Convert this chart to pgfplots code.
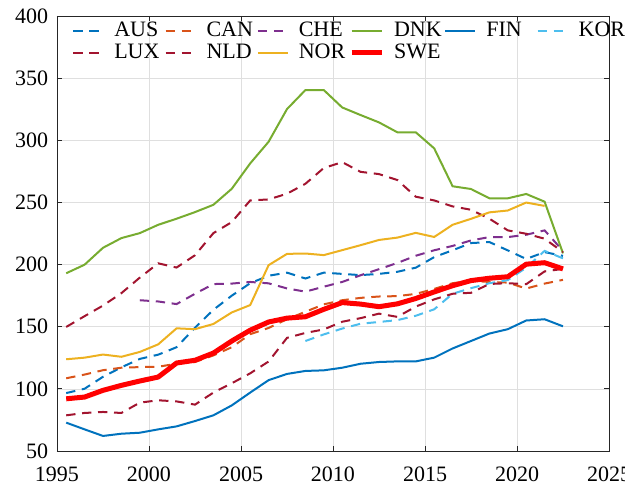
\documentclass[border=0pt]{standalone}
\usepackage{fontspec}
\setmainfont{Liberation Serif}
\usepackage{pgfplots}
\pgfplotsset{compat=1.18}
\definecolor{cBlue}{HTML}{0072BD}
\definecolor{cOrange}{HTML}{D95319}
\definecolor{cPurple}{HTML}{7E2F8E}
\definecolor{cGreen}{HTML}{77AC30}
\definecolor{cLight}{HTML}{4DBEEE}
\definecolor{cDark}{HTML}{A2142F}
\definecolor{cYellow}{HTML}{EDB120}
\definecolor{cSwe}{HTML}{FF0000}
\definecolor{cAxis}{HTML}{262626}
\definecolor{cGrid}{HTML}{DFDFDF}
\begin{document}
\fontsize{16.5}{19}\selectfont
\begin{tikzpicture}
\begin{axis}[
  name=ax,
  scale only axis,
  width=414pt, height=326.25pt,
  xmin=1995, xmax=2025, ymin=50, ymax=400,
  xtick={1995,2000,...,2025},
  ytick={50,100,...,400},
  grid=major,
  grid style={color=cGrid, line width=0.5pt},
  axis line style={color=cAxis, line width=0.6pt},
  tick align=inside, tick pos=both,
  major tick length=4pt,
  tick style={color=cAxis, line width=0.6pt},
  /pgf/number format/assume math mode=true,
  /pgf/number format/1000 sep={},
  ticklabel style={font=\fontsize{16.5}{19}\selectfont, text=black},
  xticklabel style={yshift=-6pt},
  yticklabel style={xshift=-1pt},
  mydash/.style={dash pattern=on 7pt off 5pt},
  legend columns=6,
  legend style={draw=none, fill=none, at={(0.0272,0.9925)}, anchor=north west,
    inner sep=0pt, row sep=0pt,
    font=\fontsize{16.5}{19}\selectfont,
    nodes={inner sep=1.5pt, text height=11.5pt, text depth=2pt},
    /tikz/every odd column/.append style={column sep=6pt},
    /tikz/every even column/.append style={column sep=0pt}},
  legend cell align=left,
  legend image code/.code={\draw[#1] (0pt,0pt) -- (22.5pt,0pt);},
]
\addplot[cBlue, mydash, line width=1.5pt] coordinates {
(1995.5,96.6) (1996.5,100.1) (1997.5,109.7) (1998.5,117.3) (1999.5,124.1) (2000.5,127.5) (2001.5,133.5) (2002.5,149.2) (2003.5,163.6) (2004.5,175) (2005.5,185) (2006.5,191) (2007.5,193.5) (2008.5,188.8) (2009.5,193.5) (2010.5,192.5) (2011.5,191.5) (2012.5,192.5) (2013.5,194.2) (2014.5,197.5) (2015.5,206) (2016.5,211.5) (2017.5,217.3) (2018.5,218.1) (2019.5,211.4) (2020.5,204.5) (2021.5,210) (2022.5,207)};
\addlegendentry{\makebox[36.2pt][l]{AUS}}
\addplot[cOrange, mydash, line width=1.5pt] coordinates {
(1995.5,108.5) (1996.5,111.5) (1997.5,115) (1998.5,117) (1999.5,117.5) (2000.5,117.8) (2001.5,120.2) (2002.5,121.6) (2003.5,126.9) (2004.5,133.5) (2005.5,144) (2006.5,149) (2007.5,156) (2008.5,162) (2009.5,168) (2010.5,171.3) (2011.5,173.2) (2012.5,174.3) (2013.5,174.6) (2014.5,176.4) (2015.5,180.4) (2016.5,185) (2017.5,187) (2018.5,186) (2019.5,185.5) (2020.5,180.7) (2021.5,184.7) (2022.5,187.7)};
\addlegendentry{\makebox[36.2pt][l]{CAN}}
\addplot[cPurple, mydash, line width=1.5pt] coordinates {
(1999.5,171.3) (2000.5,170.3) (2001.5,168.2) (2002.5,176.5) (2003.5,184.3) (2004.5,184.7) (2005.5,186) (2006.5,184.9) (2007.5,180.8) (2008.5,178.2) (2009.5,182.2) (2010.5,186) (2011.5,191.4) (2012.5,196.3) (2013.5,201.3) (2014.5,207.1) (2015.5,211.5) (2016.5,215) (2017.5,219.4) (2018.5,222.1) (2019.5,222.1) (2020.5,224) (2021.5,227.5) (2022.5,211)};
\addlegendentry{\makebox[36.2pt][l]{CHE}}
\addplot[cGreen, line width=1.5pt] coordinates {
(1995.5,193) (1996.5,199.9) (1997.5,213.5) (1998.5,221.3) (1999.5,225.3) (2000.5,232) (2001.5,236.9) (2002.5,242.2) (2003.5,248.1) (2004.5,261) (2005.5,281.4) (2006.5,298.8) (2007.5,325.1) (2008.5,340.4) (2009.5,340.4) (2010.5,326.4) (2011.5,320.3) (2012.5,314.4) (2013.5,306.4) (2014.5,306.4) (2015.5,293.5) (2016.5,263) (2017.5,260.8) (2018.5,253.3) (2019.5,253.3) (2020.5,256.8) (2021.5,250.6) (2022.5,209)};
\addlegendentry{\makebox[36.2pt][l]{DNK}}
\addplot[cBlue, line width=1.5pt] coordinates {
(1995.5,72.8) (1996.5,67.4) (1997.5,62.1) (1998.5,63.9) (1999.5,64.7) (2000.5,67.4) (2001.5,69.8) (2002.5,74.1) (2003.5,78.7) (2004.5,86.7) (2005.5,97) (2006.5,107) (2007.5,112) (2008.5,114.4) (2009.5,114.9) (2010.5,117) (2011.5,120.2) (2012.5,121.6) (2013.5,122.1) (2014.5,122.1) (2015.5,125.1) (2016.5,132.5) (2017.5,138.5) (2018.5,144.5) (2019.5,148) (2020.5,155) (2021.5,156) (2022.5,150.3)};
\addlegendentry{\makebox[36.2pt][l]{FIN}}
\addplot[cLight, mydash, line width=1.5pt] coordinates {
(2008.5,138.5) (2009.5,143.8) (2010.5,148.5) (2011.5,152.4) (2012.5,153.8) (2013.5,155.3) (2014.5,158.8) (2015.5,164) (2016.5,176.5) (2017.5,181) (2018.5,185) (2019.5,187.5) (2020.5,197.5) (2021.5,211) (2022.5,205)};
\addlegendentry{KOR}
\addplot[cDark, mydash, line width=1.5pt] coordinates {
(1995.5,78.7) (1996.5,80.6) (1997.5,81.4) (1998.5,80.6) (1999.5,88.9) (2000.5,90.8) (2001.5,89.9) (2002.5,87.3) (2003.5,97) (2004.5,104.5) (2005.5,112.5) (2006.5,122) (2007.5,141) (2008.5,145) (2009.5,147.8) (2010.5,154) (2011.5,156.9) (2012.5,160.5) (2013.5,157.9) (2014.5,166.2) (2015.5,172) (2016.5,176.5) (2017.5,177.3) (2018.5,184.4) (2019.5,185) (2020.5,184.2) (2021.5,194.5) (2022.5,196.5)};
\addlegendentry{\makebox[36.2pt][l]{LUX}}
\addplot[cDark, mydash, line width=1.5pt] coordinates {
(1995.5,149.8) (1996.5,158.5) (1997.5,167) (1998.5,177) (1999.5,189.5) (2000.5,201) (2001.5,197.6) (2002.5,207.5) (2003.5,225.3) (2004.5,234.2) (2005.5,251.6) (2006.5,252.4) (2007.5,257) (2008.5,265) (2009.5,277.7) (2010.5,282.4) (2011.5,274.6) (2012.5,272.8) (2013.5,268) (2014.5,254.6) (2015.5,251.6) (2016.5,246.8) (2017.5,244.1) (2018.5,236.9) (2019.5,227.5) (2020.5,224.8) (2021.5,220.8) (2022.5,210)};
\addlegendentry{\makebox[36.2pt][l]{NLD}}
\addplot[cYellow, line width=1.5pt] coordinates {
(1995.5,123.8) (1996.5,125.1) (1997.5,127.6) (1998.5,125.8) (1999.5,129.7) (2000.5,135.8) (2001.5,148.7) (2002.5,148) (2003.5,152.2) (2004.5,161.5) (2005.5,167.4) (2006.5,199.5) (2007.5,208.6) (2008.5,208.9) (2009.5,207.6) (2010.5,211.6) (2011.5,215.6) (2012.5,219.8) (2013.5,221.7) (2014.5,225.5) (2015.5,222.2) (2016.5,232) (2017.5,236.8) (2018.5,242) (2019.5,243.5) (2020.5,249.9) (2021.5,247.2)};
\addlegendentry{\makebox[36.2pt][l]{NOR}}
\addplot[cSwe, line width=3.75pt, line join=round] coordinates {
(1995.5,92) (1996.5,93.4) (1997.5,98.8) (1998.5,102.8) (1999.5,106.3) (2000.5,109.5) (2001.5,120.8) (2002.5,123) (2003.5,128.8) (2004.5,138.5) (2005.5,147.2) (2006.5,153.8) (2007.5,156.9) (2008.5,158) (2009.5,164) (2010.5,169.4) (2011.5,168.2) (2012.5,166.1) (2013.5,168.4) (2014.5,172.7) (2015.5,178) (2016.5,183) (2017.5,187.1) (2018.5,189) (2019.5,190.2) (2020.5,200.3) (2021.5,201.5) (2022.5,196.5)};
\addlegendentry{\makebox[36.2pt][l]{SWE}}
\end{axis}
\pgfresetboundingbox
\useasboundingbox ([shift={(-42.75pt,-27pt)}]ax.south west) rectangle ([shift={(12pt,12pt)}]ax.north east);
\end{tikzpicture}
\end{document}
